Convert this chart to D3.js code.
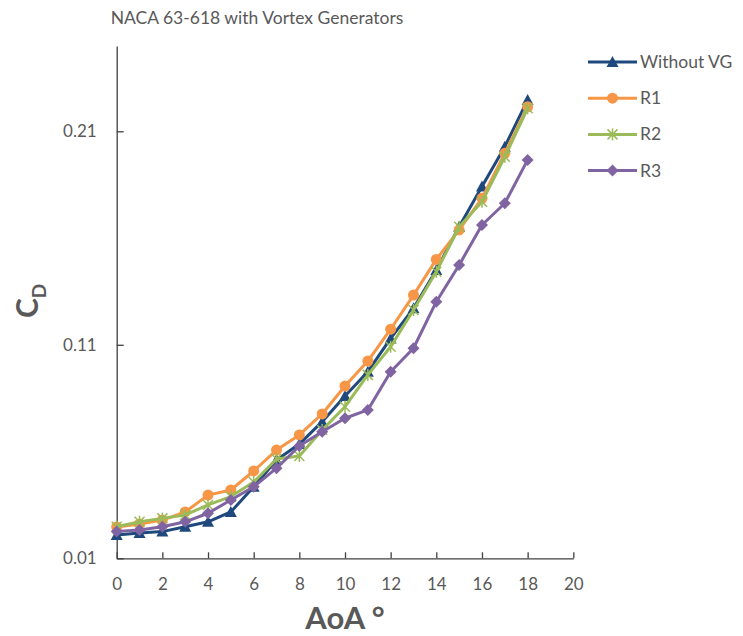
<!DOCTYPE html>
<html>
<head>
<meta charset="utf-8">
<script src="https://cdn.jsdelivr.net/npm/d3@7"></script>
<style>
  body { margin: 0; background: #fff; }
  svg text { font-family: Lato, "Open Sans", sans-serif; fill: #595959; }
</style>
</head>
<body>
<script>
// data
let aoa = [0,1,2,3,4,5,6,7,8,9,10,11,12,13,14,15,16,17,18];
let withoutVG = [0.0209,0.0218,0.0225,0.0248,0.0271,0.0317,0.0435,0.0560,0.0635,0.0740,0.0860,0.0974,0.1130,0.1271,0.1450,0.1653,0.1841,0.2028,0.2247];
let r1 = [0.0247,0.0261,0.0279,0.0317,0.0396,0.0420,0.0509,0.0607,0.0678,0.0776,0.0907,0.1024,0.1173,0.1333,0.1500,0.1638,0.1786,0.1997,0.2215];
let r2 = [0.0248,0.0271,0.0287,0.0303,0.0350,0.0389,0.0457,0.0565,0.0579,0.0701,0.0810,0.0959,0.1091,0.1263,0.1442,0.1653,0.1770,0.1981,0.2208];
let r3 = [0.0225,0.0233,0.0248,0.0271,0.0311,0.0373,0.0435,0.0522,0.0626,0.0693,0.0756,0.0795,0.0974,0.1084,0.1302,0.1474,0.1661,0.1763,0.1966];
let seriesNames = ["Without VG","R1","R2","R3"];
let seriesColours = ["#1f497d","#f79646","#9bbb59","#8064a2"];
let seriesMarkers = ["triangle","circle","star","diamond"];
let xTicks = [0,2,4,6,8,10,12,14,16,18,20];
let yTicks = [0.01,0.11,0.21];

let width = 743, height = 636;
let svg = d3.select("body").append("svg")
  .attr("width", width)
  .attr("height", height);

let x = d3.scaleLinear().domain([0, 20]).range([116.7, 573.3]);
let y = d3.scaleLinear().domain([0.01, 0.25]).range([558.3, 45.9]);

// title
svg.append("text")
  .attr("x", 257).attr("y", 24)
  .attr("text-anchor", "middle")
  .style("font-size", "17.5px")
  .text("NACA 63-618 with Vortex Generators");

// axes
let xAxis = svg.append("g")
  .attr("transform", "translate(0," + y(0.01) + ")")
  .call(d3.axisBottom(x).tickValues(xTicks).tickSizeInner(-6).tickSizeOuter(0).tickPadding(20));
let yAxis = svg.append("g")
  .attr("transform", "translate(" + x(0) + ",0)")
  .call(d3.axisLeft(y).tickValues(yTicks).tickFormat(d3.format(".2f")).tickSizeInner(-7).tickSizeOuter(0).tickPadding(20));
[xAxis, yAxis].forEach(function(a){
  a.select(".domain").attr("stroke", "#404040").attr("stroke-width", 1.3);
  a.selectAll(".tick line").attr("stroke", "#404040").attr("stroke-width", 1.3);
  a.selectAll(".tick text").style("font-size", "17px").attr("fill", "#7f7f7f");
});

// axis titles
svg.append("text")
  .attr("x", 345).attr("y", 629)
  .attr("text-anchor", "middle")
  .style("font-size", "31px").style("font-weight", "bold")
  .text("AoA °");

let yt = svg.append("text")
  .attr("transform", "translate(38,318) rotate(-90)")
  .style("font-size", "30px").style("font-weight", "bold");
yt.append("tspan").text("C");
yt.append("tspan").attr("dy", 8).style("font-size", "19px").text("D");

// marker shapes
function marker(g, type, colour) {
  if (type == "triangle") {
    g.append("path").attr("d", "M0,-6L6,5L-6,5Z").attr("fill", colour);
  } else if (type == "circle") {
    g.append("circle").attr("r", 5.5).attr("fill", colour);
  } else if (type == "diamond") {
    g.append("path").attr("d", "M0,-6L6,0L0,6L-6,0Z").attr("fill", colour);
  } else {
    g.append("path").attr("d", "M-5,-5L5,5M-5,5L5,-5M0,-6L0,6")
      .attr("stroke", colour).attr("stroke-width", 1.5).attr("fill", "none");
  }
}

let allSeries = [withoutVG, r1, r2, r3];
let line = d3.line()
  .x(function(d, i){ return x(aoa[i]); })
  .y(function(d){ return y(d); });

allSeries.forEach(function(vals, s){
  let g = svg.append("g").attr("class", "series");
  g.append("path")
    .attr("d", line(vals))
    .attr("fill", "none")
    .attr("stroke", seriesColours[s])
    .attr("stroke-width", 3)
    .attr("stroke-linejoin", "round");
  vals.forEach(function(v, i){
    let m = g.append("g").attr("transform", "translate(" + x(aoa[i]) + "," + y(v) + ")");
    marker(m, seriesMarkers[s], seriesColours[s]);
  });
});

// legend
let legend = svg.append("g").attr("transform", "translate(588,62)");
seriesNames.forEach(function(name, s){
  let row = legend.append("g").attr("transform", "translate(0," + (s * 36.2) + ")");
  row.append("line")
    .attr("x1", 0).attr("x2", 49).attr("y1", 0).attr("y2", 0)
    .attr("stroke", seriesColours[s]).attr("stroke-width", 3);
  let m = row.append("g").attr("transform", "translate(24.5,0)");
  marker(m, seriesMarkers[s], seriesColours[s]);
  row.append("text")
    .attr("x", 52).attr("y", 6)
    .style("font-size", "17.5px")
    .text(name);
});
</script>
</body>
</html>
